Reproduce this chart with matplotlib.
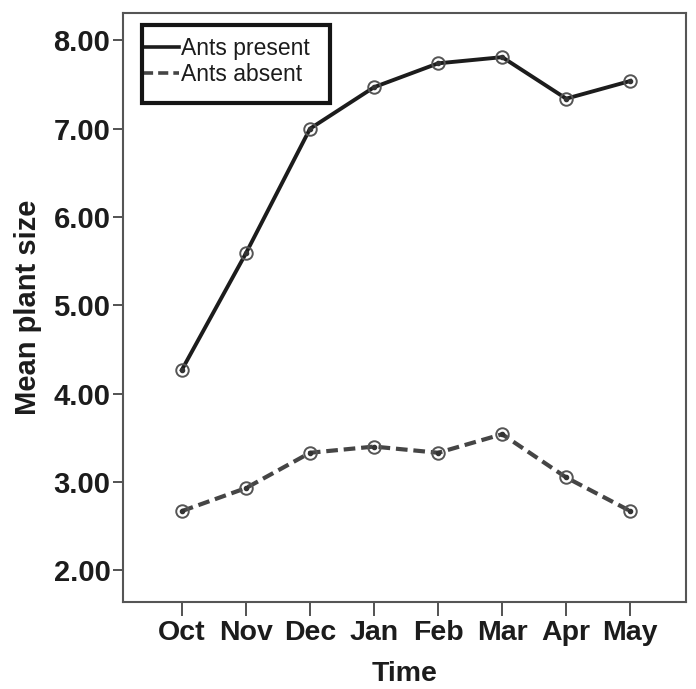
import matplotlib
matplotlib.use("Agg")
import matplotlib.pyplot as plt
from matplotlib.patches import Rectangle

months = ["Oct", "Nov", "Dec", "Jan", "Feb", "Mar", "Apr", "May"]
ants_present = [4.27, 5.59, 7.00, 7.47, 7.74, 7.81, 7.34, 7.54]
ants_absent = [2.67, 2.93, 3.33, 3.40, 3.33, 3.54, 3.05, 2.67]
yticks = [2.0, 3.0, 4.0, 5.0, 6.0, 7.0, 8.0]

plt.rcParams['font.family'] = ['Liberation Sans', 'DejaVu Sans']

W, H = 696, 689
fig = plt.figure(figsize=(W / 100, H / 100), dpi=100)
ax = fig.add_axes([123 / W, 1 - 602 / H, (686 - 123) / W, (602 - 13) / H])

x = list(range(len(months)))
ax.plot(x, ants_present, color='#1c1c1c', lw=2.8, marker='o', ms=9,
        mfc='none', mec='#555555', mew=1.4, label='Ants present')
ax.plot(x, ants_absent, color='#454545', lw=3.0, ls=(0, (2.8, 1.4)), marker='o', ms=9,
        mfc='none', mec='#555555', mew=1.4, label='Ants absent')
# small dots inside the circles
ax.plot(x, ants_present, ls='none', marker='o', ms=3, color='#333333')
ax.plot(x, ants_absent, ls='none', marker='o', ms=3, color='#333333')

ax.set_xlim(-0.92, 7.87)
ax.set_ylim(1.64, 8.31)
ax.set_xticks(x)
ax.set_xticklabels(months)
ax.set_yticks(yticks)
ax.set_yticklabels([f"{v:.2f}" for v in yticks])

ax.tick_params(axis='x', direction='out', length=10, width=1.3, color='#444444',
               labelsize=20.5, pad=3)
ax.tick_params(axis='y', direction='out', length=7, width=1.3, color='#444444',
               labelsize=21, pad=2)
for lab in ax.get_xticklabels() + ax.get_yticklabels():
    lab.set_fontweight('bold')
    lab.set_color('#1c1c1c')

for sp in ax.spines.values():
    sp.set_color('#555555')
    sp.set_linewidth(1.5)

ax.set_xlabel("Time", fontsize=20.5, fontweight='bold', color='#1c1c1c', labelpad=11)
ax.set_ylabel("Mean plant size", fontsize=21, fontweight='bold', color='#1c1c1c', labelpad=8)

leg = ax.legend(loc='upper left', bbox_to_anchor=(0.036, 0.96), fontsize=16.5,
                frameon=False, handlelength=1.55, handletextpad=0.1,
                borderpad=0, labelspacing=0.15, borderaxespad=0)
for h in leg.legend_handles:
    h.set_marker('')
    h.set_linewidth(2.6)
for t in leg.get_texts():
    t.set_color('#1c1c1c')

# legend frame
fig.patches.append(Rectangle((142 / W, 1 - 103 / H), (330 - 142) / W, (103 - 25) / H,
                             transform=fig.transFigure, fill=False,
                             edgecolor='#151515', linewidth=3))

fig.savefig("out.png", dpi=100)
